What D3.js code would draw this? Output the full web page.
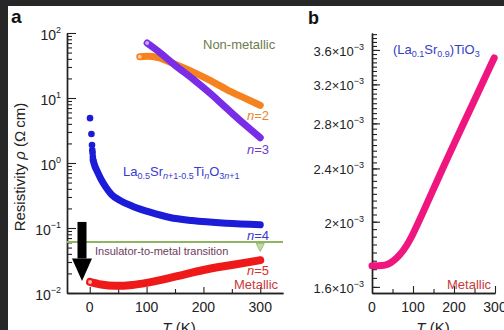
<!DOCTYPE html>
<html>
<head>
<meta charset="utf-8">
<script src="https://cdn.jsdelivr.net/npm/d3@7"></script>
<style>
  body { margin: 0; background: #272727; }
  svg { display: block; }
  text { font-family: "Liberation Sans", Arial, Helvetica, sans-serif; }
</style>
</head>
<body>
<svg width="504" height="330"></svg>
<script>
// ---- panel a data: T (K) and resistivity (Ohm cm) ----
var n2T   = [88, 100, 120, 150, 182, 210, 241, 270, 300];
var n2Rho = [43, 44, 42, 33, 25, 19, 13.5, 10.2, 7.7];

var n3T   = [101, 120, 150, 182, 212, 242, 270, 300];
var n3Rho = [70, 53, 32, 19.5, 11.8, 6.8, 4.1, 2.45];

// n=4: sparse low-T points drawn as dots, then the dense part as a line
var n4DotT   = [0.5, 3, 4, 4.5, 5, 5.5, 6];
var n4DotRho = [4.9, 2.8, 1.89, 1.58, 1.43, 1.24, 1.11];
var n4T   = [6, 9, 13, 20, 28, 38, 55, 76, 106, 141, 180, 240, 300];
var n4Rho = [1.1, 0.9, 0.75, 0.56, 0.43, 0.33, 0.26, 0.215, 0.175, 0.145, 0.13, 0.118, 0.112];

var n5T   = [0.5, 20, 45, 75, 100, 150, 200, 250, 300];
var n5Rho = [0.0148, 0.0135, 0.0129, 0.0133, 0.0143, 0.0178, 0.0226, 0.027, 0.032];

var transitionRho = 0.061;

// ---- panel b data: (La0.1Sr0.9)TiO3 ----
var bT   = [0, 15, 32, 45, 61, 75, 93, 124, 185, 239, 298];
var bRho = [1.72e-3, 1.72e-3, 1.722e-3, 1.735e-3, 1.767e-3, 1.806e-3, 1.875e-3, 2.062e-3, 2.497e-3, 2.932e-3, 3.503e-3];

// tick values
var aXMajor = [0, 100, 200, 300], aXMinor = [50, 150, 250];
var aYExp = [2, 1, 0, -1, -2];
var bXMajor = [0, 100, 200, 300], bXMinor = [50, 150, 250];
var bYMajor = [1.6, 2.0, 2.4, 2.8, 3.2, 3.6];

function zip(a, b) { return a.map(function (v, i) { return [v, b[i]]; }); }

var svg = d3.select("svg");
svg.append("rect").attr("x", 8).attr("y", 6).attr("width", 496).attr("height", 324).attr("fill", "#fff");

var xA = d3.scaleLinear().domain([-40, 340]).range([67, 283]);
var yA = d3.scaleLog().domain([1e-2, 1e2]).range([293, 33]);
var xB = d3.scaleLinear().domain([0, 300]).range([372, 495]);
var yB = d3.scaleLog().domain([1.567e-3, 3.815e-3]).range([293, 33]);

var axisColor = "#222";
function styleAxis(g) {
  g.selectAll("path").attr("stroke", axisColor).attr("stroke-width", 1.4);
  g.selectAll("line").attr("stroke", axisColor).attr("stroke-width", 1.1);
  g.selectAll("text").remove();
}

// ---- panel a axes ----
var aYMinor = [];
[-2, -1, 0, 1].forEach(function (e) { for (var k = 2; k <= 9; k++) aYMinor.push(k * Math.pow(10, e)); });

svg.append("g").attr("transform", "translate(67,0)")
  .call(d3.axisLeft(yA).tickValues(aYMinor).tickSize(-5).tickSizeOuter(0)).call(styleAxis);
svg.append("g").attr("transform", "translate(67,0)")
  .call(d3.axisLeft(yA).tickValues(aYExp.map(function (e) { return Math.pow(10, e); })).tickSize(-9).tickSizeOuter(0)).call(styleAxis);
svg.append("g").attr("transform", "translate(0,293)")
  .call(d3.axisBottom(xA).tickValues(aXMinor).tickSize(-4).tickSizeOuter(0)).call(styleAxis);
svg.append("g").attr("transform", "translate(0,293)")
  .call(d3.axisBottom(xA).tickValues(aXMajor).tickSize(-6).tickSizeOuter(0)).call(styleAxis);

// y labels 10^n
aYExp.forEach(function (e) {
  var t = svg.append("text").attr("x", 61).attr("y", yA(Math.pow(10, e)) + 7)
    .attr("text-anchor", "end").attr("font-size", 14).attr("fill", "#222");
  t.append("tspan").text("10");
  t.append("tspan").attr("dy", -7).attr("font-size", 9).text(e < 0 ? "\u2212" + (-e) : e);
});
aXMajor.forEach(function (v) {
  svg.append("text").attr("x", xA(v)).attr("y", 312).attr("text-anchor", "middle")
    .attr("font-size", 14).attr("fill", "#222").text(v);
});

// axis titles panel a
var yt = svg.append("text").attr("transform", "translate(25,167) rotate(-90)")
  .attr("text-anchor", "middle").attr("font-size", 15).attr("fill", "#222");
yt.append("tspan").text("Resistivity ");
yt.append("tspan").attr("font-style", "italic").text("\u03c1");
yt.append("tspan").text(" (\u03a9\u2009cm)");

function tTitle(cx) {
  var t = svg.append("text").attr("x", cx).attr("y", 333).attr("text-anchor", "middle")
    .attr("font-size", 15).attr("fill", "#222");
  t.append("tspan").attr("font-style", "italic").text("T");
  t.append("tspan").text(" (K)");
}
tTitle(179);
tTitle(433);

// transition line
svg.append("line").attr("x1", xA(-40)).attr("x2", xA(340))
  .attr("y1", yA(transitionRho)).attr("y2", yA(transitionRho))
  .attr("stroke", "#8fb563").attr("stroke-width", 2);

// curves panel a
var lineA = d3.line().x(function (d) { return xA(d[0]); }).y(function (d) { return yA(d[1]); })
  .curve(d3.curveMonotoneX);

function curve(T, R, color, w) {
  svg.append("path").datum(zip(T, R)).attr("d", lineA)
    .attr("fill", "none").attr("stroke", color).attr("stroke-width", w)
    .attr("stroke-linecap", "round").attr("stroke-linejoin", "round");
}
curve(n2T, n2Rho, "#f5821f", 7);
curve(n3T, n3Rho, "#7a2de6", 7);
curve(n4T, n4Rho, "#1c1cd8", 7);
curve(n5T, n5Rho, "#ee1a1a", 8);

svg.append("g").selectAll("circle").data(zip(n4DotT, n4DotRho)).enter().append("circle")
  .attr("cx", function (d) { return xA(d[0]); }).attr("cy", function (d) { return yA(d[1]); })
  .attr("r", 3.3).attr("fill", "#1c1cd8");

// light start caps
[[n2T, n2Rho, "#ffc79a"], [n3T, n3Rho, "#c9a8ff"], [n5T, n5Rho, "#ffb4b4"]].forEach(function (s) {
  svg.append("circle").attr("cx", xA(s[0][0])).attr("cy", yA(s[1][0])).attr("r", 2)
    .attr("fill", s[2]);
});

// black arrow
var ax = xA(-13.6);
svg.append("rect").attr("x", ax - 4.5).attr("y", yA(0.124)).attr("width", 9)
  .attr("height", yA(0.034) - yA(0.124)).attr("fill", "#000");
svg.append("path").attr("d", "M" + (ax - 10) + "," + yA(0.034) + "L" + (ax + 10) + "," + yA(0.034) +
  "L" + ax + "," + yA(0.0153) + "Z").attr("fill", "#000");

// small green marker at 300 K
var gx = xA(300), gy = yA(transitionRho) + 1.5;
svg.append("path").attr("d", "M" + (gx - 4) + "," + gy + "L" + (gx + 4) + "," + gy + "L" + gx + "," + (gy + 8) + "Z")
  .attr("fill", "#c2d9aa").attr("stroke", "#9cbf78").attr("stroke-width", 1);

// annotations panel a
function label(x, y, size, color, parts) {
  var t = svg.append("text").attr("x", x).attr("y", y).attr("font-size", size).attr("fill", color);
  parts.forEach(function (p) {
    var s = t.append("tspan").text(p.t);
    if (p.i) s.attr("font-style", "italic");
    if (p.dy) s.attr("dy", p.dy);
    if (p.fs) s.attr("font-size", p.fs);
  });
  return t;
}
label(203, 49, 13, "#6b7d4b", [{ t: "Non-metallic" }]);
label(247, 120, 13, "#e8862a", [{ t: "n", i: 1 }, { t: "=2" }]);
label(247, 154, 13, "#6a3cc8", [{ t: "n", i: 1 }, { t: "=3" }]);
label(247, 240, 13, "#3a3acb", [{ t: "n", i: 1 }, { t: "=4" }]);
label(247, 275, 13, "#d8302c", [{ t: "n", i: 1 }, { t: "=5" }]);
label(234, 289, 13, "#c83a3a", [{ t: "Metallic" }]);
label(95, 255, 11, "#6e3b5c", [{ t: "Insulator-to-metal transition" }]);
label(123, 176, 13, "#3a3acb", [
  { t: "La" }, { t: "0.5", dy: 3, fs: 9 }, { t: "Sr", dy: -3 },
  { t: "n", dy: 3, fs: 9, i: 1 }, { t: "+1-0.5", fs: 9 }, { t: "Ti", dy: -3 },
  { t: "n", dy: 3, fs: 9, i: 1 }, { t: "O", dy: -3 }, { t: "3", dy: 3, fs: 9 },
  { t: "n", fs: 9, i: 1 }, { t: "+1", fs: 9 }
]);

// panel letters
svg.append("text").attr("x", 11).attr("y", 23).attr("font-size", 19).attr("font-weight", "bold").attr("fill", "#111").text("a");
svg.append("text").attr("x", 308).attr("y", 24).attr("font-size", 18).attr("font-weight", "bold").attr("fill", "#111").text("b");

// ---- panel b axes ----
var bYMinor = [];
for (var i = 0; i <= 44; i++) { var v = (1.6 + 0.05 * i) * 1e-3; if (v <= 3.815e-3) bYMinor.push(v); }

svg.append("g").attr("transform", "translate(372,0)")
  .call(d3.axisLeft(yB).tickValues(bYMinor).tickSize(-5).tickSizeOuter(0)).call(styleAxis);
svg.append("g").attr("transform", "translate(372,0)")
  .call(d3.axisLeft(yB).tickValues(bYMajor.map(function (v) { return v * 1e-3; })).tickSize(-8).tickSizeOuter(0)).call(styleAxis);
svg.append("g").attr("transform", "translate(0,293)")
  .call(d3.axisBottom(xB).tickValues(bXMinor).tickSize(-4).tickSizeOuter(0)).call(styleAxis);
svg.append("g").attr("transform", "translate(0,293)")
  .call(d3.axisBottom(xB).tickValues(bXMajor.slice(1)).tickSize(-7).tickSizeOuter(0)).call(styleAxis);

bYMajor.forEach(function (v) {
  var t = svg.append("text").attr("x", 364).attr("y", yB(v * 1e-3) + 6)
    .attr("text-anchor", "end").attr("font-size", 13).attr("fill", "#222");
  t.append("tspan").text(v.toFixed(1).replace(/\.0$/, "") + "\u00d710");
  t.append("tspan").attr("dy", -6).attr("font-size", 9).text("\u22123");
});
bXMajor.forEach(function (v) {
  svg.append("text").attr("x", xB(v)).attr("y", 312).attr("text-anchor", "middle")
    .attr("font-size", 14).attr("fill", "#222").text(v);
});

// panel b curve
var lineB = d3.line().x(function (d) { return xB(d[0]); }).y(function (d) { return yB(d[1]); })
  .curve(d3.curveBasis);
svg.append("path").datum(zip(bT, bRho)).attr("d", lineB)
  .attr("fill", "none").attr("stroke", "#f0167f").attr("stroke-width", 7)
  .attr("stroke-linecap", "round").attr("stroke-linejoin", "round");

label(393, 54, 13, "#3540c0", [
  { t: "(La" }, { t: "0.1", dy: 3, fs: 9 }, { t: "Sr", dy: -3 }, { t: "0.9", dy: 3, fs: 9 },
  { t: ")TiO", dy: -3 }, { t: "3", dy: 3, fs: 9 }
]);
label(447, 289, 13, "#c83a3a", [{ t: "Metallic" }]);
</script>
</body>
</html>
